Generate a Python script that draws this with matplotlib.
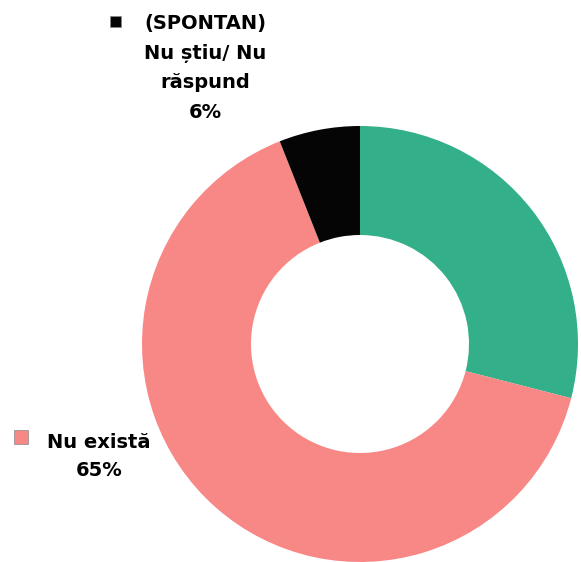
import matplotlib
matplotlib.use("Agg")
import matplotlib.pyplot as plt
from matplotlib.patches import Rectangle

categories = ["Există", "Nu există", "(SPONTAN)\nNu știu/ Nu\nrăspund"]
values = [29, 65, 6]
colors = ["#33AF8A", "#F88886", "#050505"]

W, H = 581, 562
fig = plt.figure(figsize=(W / 100, H / 100), dpi=100)
ax = fig.add_axes([0, 0, 1, 1])

cx, cy, R = 360, H - 344, 218
wedges, _ = ax.pie(values, colors=colors, startangle=90, counterclock=False,
                   center=(cx, cy), radius=R, frame=True,
                   wedgeprops=dict(width=R * 0.5, edgecolor="none", linewidth=0))
ax.set_xlim(0, W)
ax.set_ylim(0, H)
ax.set_aspect("equal")
ax.axis("off")

# labels (green slice label falls outside the visible area)
def label(x, y, text, color, mx, my, ms, ls):
    ax.text(x, y, text, ha="center", va="center", fontsize=14, fontweight="bold",
            family="DejaVu Sans", linespacing=ls, color="black")
    ax.add_patch(Rectangle((mx, H - my - ms), ms, ms, facecolor=color,
                           edgecolor="#888888", linewidth=0.5))

label(205, H - 68, f"{categories[2]}\n{values[2]}%", colors[2], 110, 16, 11, 1.7)
label(99, H - 457, f"{categories[1]}\n{values[1]}%", colors[1], 14, 430, 14, 1.6)

fig.savefig("out.png", dpi=100)
